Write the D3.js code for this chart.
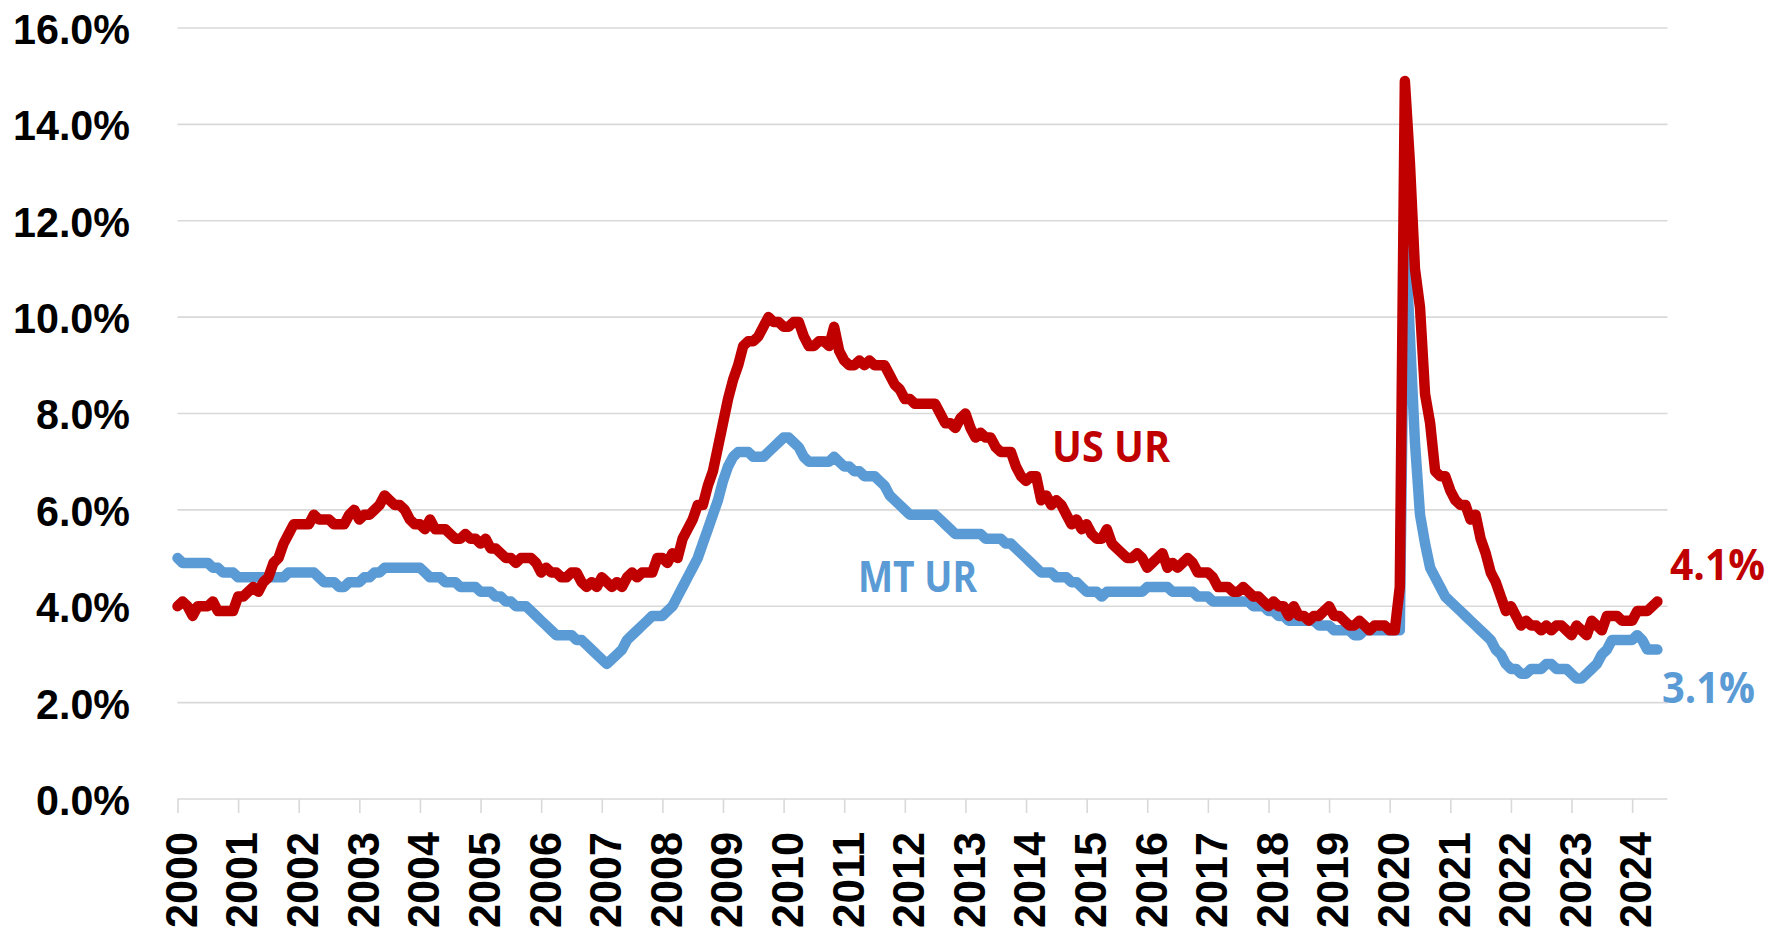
<!DOCTYPE html>
<html>
<head>
<meta charset="utf-8">
<script src="https://cdn.jsdelivr.net/npm/d3@7"></script>
<style>
  body { margin: 0; background: #fff; }
  svg { display: block; }
</style>
</head>
<body>
<div id="chart"></div>
<script>
// monthly unemployment rate, Jan 2000 .. Jun 2024 (percent)
var usRate = [
  4.0, 4.1, 4.0, 3.8, 4.0, 4.0, 4.0, 4.1, 3.9, 3.9, 3.9, 3.9, // 2000
  4.2, 4.2, 4.3, 4.4, 4.3, 4.5, 4.6, 4.9, 5.0, 5.3, 5.5, 5.7, // 2001
  5.7, 5.7, 5.7, 5.9, 5.8, 5.8, 5.8, 5.7, 5.7, 5.7, 5.9, 6.0, // 2002
  5.8, 5.9, 5.9, 6.0, 6.1, 6.3, 6.2, 6.1, 6.1, 6.0, 5.8, 5.7, // 2003
  5.7, 5.6, 5.8, 5.6, 5.6, 5.6, 5.5, 5.4, 5.4, 5.5, 5.4, 5.4, // 2004
  5.3, 5.4, 5.2, 5.2, 5.1, 5.0, 5.0, 4.9, 5.0, 5.0, 5.0, 4.9, // 2005
  4.7, 4.8, 4.7, 4.7, 4.6, 4.6, 4.7, 4.7, 4.5, 4.4, 4.5, 4.4, // 2006
  4.6, 4.5, 4.4, 4.5, 4.4, 4.6, 4.7, 4.6, 4.7, 4.7, 4.7, 5.0, // 2007
  5.0, 4.9, 5.1, 5.0, 5.4, 5.6, 5.8, 6.1, 6.1, 6.5, 6.8, 7.3, // 2008
  7.8, 8.3, 8.7, 9.0, 9.4, 9.5, 9.5, 9.6, 9.8, 10.0, 9.9, 9.9, // 2009
  9.8, 9.8, 9.9, 9.9, 9.6, 9.4, 9.4, 9.5, 9.5, 9.4, 9.8, 9.3, // 2010
  9.1, 9.0, 9.0, 9.1, 9.0, 9.1, 9.0, 9.0, 9.0, 8.8, 8.6, 8.5, // 2011
  8.3, 8.3, 8.2, 8.2, 8.2, 8.2, 8.2, 8.0, 7.8, 7.8, 7.7, 7.9, // 2012
  8.0, 7.7, 7.5, 7.6, 7.5, 7.5, 7.3, 7.2, 7.2, 7.2, 6.9, 6.7, // 2013
  6.6, 6.7, 6.7, 6.2, 6.3, 6.1, 6.2, 6.1, 5.9, 5.7, 5.8, 5.6, // 2014
  5.7, 5.5, 5.4, 5.4, 5.6, 5.3, 5.2, 5.1, 5.0, 5.0, 5.1, 5.0, // 2015
  4.8, 4.9, 5.0, 5.1, 4.8, 4.9, 4.8, 4.9, 5.0, 4.9, 4.7, 4.7, // 2016
  4.7, 4.6, 4.4, 4.4, 4.4, 4.3, 4.3, 4.4, 4.3, 4.2, 4.2, 4.1, // 2017
  4.0, 4.1, 4.0, 4.0, 3.8, 4.0, 3.8, 3.8, 3.7, 3.8, 3.8, 3.9, // 2018
  4.0, 3.8, 3.8, 3.7, 3.6, 3.6, 3.7, 3.6, 3.5, 3.6, 3.6, 3.6, // 2019
  3.5, 3.5, 4.4, 14.9, 13.2, 11.0, 10.2, 8.4, 7.8, 6.8, 6.7, 6.7, // 2020
  6.4, 6.2, 6.1, 6.1, 5.8, 5.9, 5.4, 5.1, 4.7, 4.5, 4.2, 3.9, // 2021
  4.0, 3.8, 3.6, 3.7, 3.6, 3.6, 3.5, 3.6, 3.5, 3.6, 3.6, 3.5, // 2022
  3.4, 3.6, 3.5, 3.4, 3.7, 3.6, 3.5, 3.8, 3.8, 3.8, 3.7, 3.7, // 2023
  3.7, 3.9, 3.9, 3.9, 4.0, 4.1                                 // 2024
];

var mtRate = [
  5.0, 4.9, 4.9, 4.9, 4.9, 4.9, 4.9, 4.8, 4.8, 4.7, 4.7, 4.7, // 2000
  4.6, 4.6, 4.6, 4.6, 4.6, 4.6, 4.6, 4.6, 4.6, 4.6, 4.7, 4.7, // 2001
  4.7, 4.7, 4.7, 4.7, 4.6, 4.5, 4.5, 4.5, 4.4, 4.4, 4.5, 4.5, // 2002
  4.5, 4.6, 4.6, 4.7, 4.7, 4.8, 4.8, 4.8, 4.8, 4.8, 4.8, 4.8, // 2003
  4.8, 4.7, 4.6, 4.6, 4.6, 4.5, 4.5, 4.5, 4.4, 4.4, 4.4, 4.4, // 2004
  4.3, 4.3, 4.3, 4.2, 4.2, 4.1, 4.1, 4.0, 4.0, 4.0, 3.9, 3.8, // 2005
  3.7, 3.6, 3.5, 3.4, 3.4, 3.4, 3.4, 3.3, 3.3, 3.2, 3.1, 3.0, // 2006
  2.9, 2.8, 2.9, 3.0, 3.1, 3.3, 3.4, 3.5, 3.6, 3.7, 3.8, 3.8, // 2007
  3.8, 3.9, 4.0, 4.2, 4.4, 4.6, 4.8, 5.0, 5.3, 5.6, 5.9, 6.2, // 2008
  6.6, 6.9, 7.1, 7.2, 7.2, 7.2, 7.1, 7.1, 7.1, 7.2, 7.3, 7.4, // 2009
  7.5, 7.5, 7.4, 7.3, 7.1, 7.0, 7.0, 7.0, 7.0, 7.0, 7.1, 7.0, // 2010
  6.9, 6.9, 6.8, 6.8, 6.7, 6.7, 6.7, 6.6, 6.5, 6.3, 6.2, 6.1, // 2011
  6.0, 5.9, 5.9, 5.9, 5.9, 5.9, 5.9, 5.8, 5.7, 5.6, 5.5, 5.5, // 2012
  5.5, 5.5, 5.5, 5.5, 5.4, 5.4, 5.4, 5.4, 5.3, 5.3, 5.2, 5.1, // 2013
  5.0, 4.9, 4.8, 4.7, 4.7, 4.7, 4.6, 4.6, 4.6, 4.5, 4.5, 4.4, // 2014
  4.3, 4.3, 4.3, 4.2, 4.3, 4.3, 4.3, 4.3, 4.3, 4.3, 4.3, 4.3, // 2015
  4.4, 4.4, 4.4, 4.4, 4.4, 4.3, 4.3, 4.3, 4.3, 4.3, 4.2, 4.2, // 2016
  4.2, 4.1, 4.1, 4.1, 4.1, 4.1, 4.1, 4.1, 4.1, 4.0, 4.0, 4.0, // 2017
  3.9, 3.9, 3.8, 3.8, 3.7, 3.7, 3.7, 3.7, 3.7, 3.7, 3.6, 3.6, // 2018
  3.6, 3.5, 3.5, 3.5, 3.5, 3.4, 3.4, 3.5, 3.5, 3.5, 3.5, 3.5, // 2019
  3.5, 3.5, 3.5, 11.9, 9.6, 7.4, 5.9, 5.3, 4.8, 4.6, 4.4, 4.2, // 2020
  4.1, 4.0, 3.9, 3.8, 3.7, 3.6, 3.5, 3.4, 3.3, 3.1, 3.0, 2.8, // 2021
  2.7, 2.7, 2.6, 2.6, 2.7, 2.7, 2.7, 2.8, 2.8, 2.7, 2.7, 2.7, // 2022
  2.6, 2.5, 2.5, 2.6, 2.7, 2.8, 3.0, 3.1, 3.3, 3.3, 3.3, 3.3, // 2023
  3.3, 3.4, 3.3, 3.1, 3.1, 3.1                                 // 2024
];

var years = d3.range(2000, 2025);
var yTicks = [0, 2, 4, 6, 8, 10, 12, 14, 16];
var seriesNames = ["US UR", "MT UR"];
var endLabels = ["4.1%", "3.1%"];

var width = 1784, height = 928;
var svg = d3.select("#chart").append("svg")
    .attr("width", width)
    .attr("height", height);

// month index -> x ; percent -> y
var x = d3.scaleLinear().domain([0, 295]).range([177.5, 1667.5]);
var y = d3.scaleLinear().domain([0, 16]).range([799, 28]);

var axisFont = "'Liberation Sans', Arial, sans-serif";
var labelFont = "'Open Sans', 'Noto Sans', sans-serif";

// horizontal gridlines
svg.append("g")
    .selectAll("line")
    .data(yTicks)
    .enter().append("line")
    .attr("x1", x(0))
    .attr("x2", x(295))
    .attr("y1", function(d) { return y(d); })
    .attr("y2", function(d) { return y(d); })
    .attr("stroke", "#d9d9d9")
    .attr("stroke-width", 1.6);

// y axis labels
var yAxis = svg.append("g")
    .attr("transform", "translate(130,0)")
    .call(d3.axisLeft(y).tickValues(yTicks).tickSize(0).tickPadding(0)
        .tickFormat(function(d) { return d3.format(".1f")(d) + "%"; }));
yAxis.select(".domain").remove();
yAxis.selectAll("text")
    .style("font-family", axisFont)
    .style("font-weight", "bold")
    .style("font-size", "43px")
    .attr("fill", "#000")
    .attr("dy", "0.36em")
    .attr("textLength", function(d) { return d >= 10 ? 117 : 94; })
    .attr("lengthAdjust", "spacingAndGlyphs");

// x axis: one tick per January
var xAxis = svg.append("g")
    .attr("transform", "translate(0," + y(0) + ")")
    .call(d3.axisBottom(x)
        .tickValues(years.map(function(yr) { return (yr - 2000) * 12; }))
        .tickSize(14)
        .tickFormat(function(d, i) { return years[i]; }));
xAxis.select(".domain").remove();
xAxis.selectAll(".tick line")
    .attr("stroke", "#d9d9d9")
    .attr("stroke-width", 1.6);
xAxis.selectAll("text")
    .style("font-family", axisFont)
    .style("font-weight", "bold")
    .style("font-size", "44px")
    .attr("fill", "#000")
    .attr("text-anchor", "end")
    .attr("transform", "rotate(-90)")
    .attr("x", -33)
    .attr("y", 3)
    .attr("dy", "0.36em")
    .attr("textLength", 96)
    .attr("lengthAdjust", "spacingAndGlyphs");

var line = d3.line()
    .x(function(d, i) { return x(i); })
    .y(function(d) { return y(d); });

svg.append("path")
    .datum(mtRate)
    .attr("d", line)
    .attr("fill", "none")
    .attr("stroke", "#5b9bd5")
    .attr("stroke-width", 10.5)
    .attr("stroke-linejoin", "round")
    .attr("stroke-linecap", "round");

svg.append("path")
    .datum(usRate)
    .attr("d", line)
    .attr("fill", "none")
    .attr("stroke", "#c00000")
    .attr("stroke-width", 10.5)
    .attr("stroke-linejoin", "round")
    .attr("stroke-linecap", "round");

// series names and latest values
var labels = [
  { text: seriesNames[0], x: 1052, y: 462, len: 118, color: "#c00000" },
  { text: seriesNames[1], x: 858, y: 592, len: 119, color: "#5b9bd5" },
  { text: endLabels[0], x: 1670, y: 580, len: 95, color: "#c00000" },
  { text: endLabels[1], x: 1662, y: 703, len: 93, color: "#5b9bd5" }
];
svg.selectAll(".lbl")
    .data(labels)
    .enter().append("text")
    .attr("class", "lbl")
    .attr("x", function(d) { return d.x; })
    .attr("y", function(d) { return d.y; })
    .attr("textLength", function(d) { return d.len; })
    .attr("lengthAdjust", "spacingAndGlyphs")
    .style("font-family", labelFont)
    .style("font-weight", "bold")
    .style("font-size", "43px")
    .attr("fill", function(d) { return d.color; })
    .text(function(d) { return d.text; });
</script>
</body>
</html>
